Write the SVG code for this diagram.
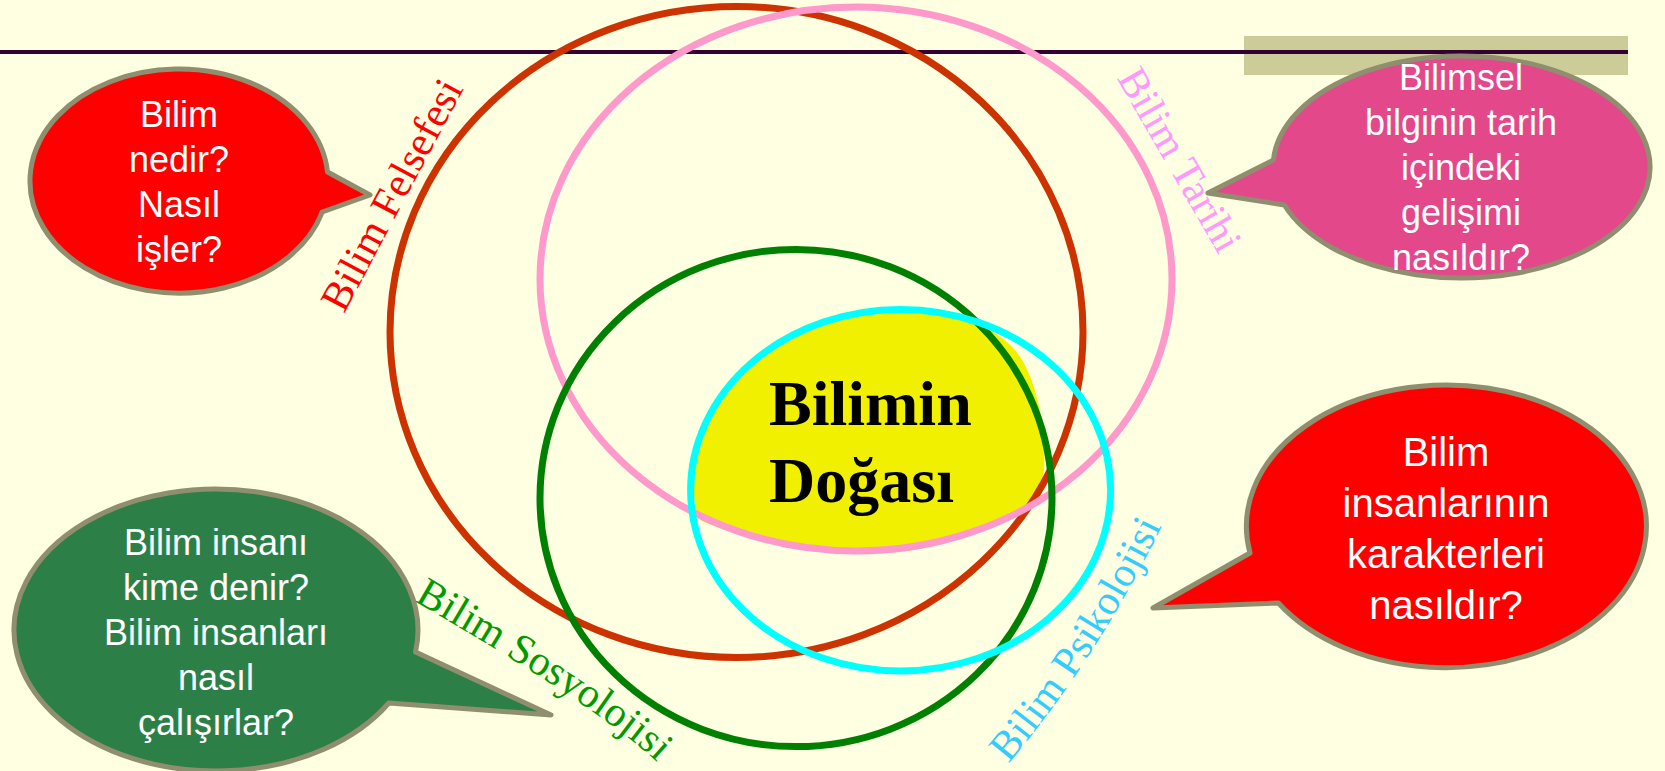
<svg xmlns="http://www.w3.org/2000/svg" width="1665" height="771" viewBox="0 0 1665 771">
<defs>
<style>
.bg{fill:#FFFFE1}
.ring{fill:none;stroke-width:7}
.bubble{stroke:#8F8E6E;stroke-width:5;stroke-linejoin:round}
.bt{font-family:"Liberation Sans",Arial,sans-serif;fill:#FFFFFF;text-anchor:middle;font-size:36px}
.lbl{font-family:"Liberation Serif","Times New Roman",serif;font-size:42px}
.core{font-family:"Liberation Serif","Times New Roman",serif;font-weight:bold;font-size:64px;fill:#000000}
</style>
<path id="pSos" d="M 413.6,600.7 Q 607.9,712.9 661,766"/>
<path id="pPsi" d="M 1008.6,763.6 Q 1098,657 1163.3,523.1"/>
</defs>
<rect class="bg" x="0" y="0" width="1665" height="771"/>
<g id="header">
<rect x="1244" y="36" width="384" height="39" fill="#CCCC99"/>
<line x1="0" y1="52" x2="1628" y2="52" stroke="#330033" stroke-width="4"/>
</g>
<g id="core">
<path d="M 694,490 A 206.5 177 0 0 1 900,313 C 950,313 990,322 1015,350 C 1038,378 1046,430 1044,470 C 1042,490 1030,505 1015,512 C 970,540 920,554 860,554 C 800,554 745,540 700,520 C 695,510 694,500 694,490 Z" fill="#F0F000"/>
</g>
<g id="rings">
<ellipse id="ring-felsefe" class="ring" cx="736.5" cy="332" rx="346.5" ry="325.5" stroke="#CC3300"/>
<ellipse id="ring-tarih" class="ring" cx="856" cy="279" rx="316" ry="272" stroke="#FF99CC"/>
<ellipse id="ring-sosyoloji" class="ring" cx="796" cy="498" rx="256" ry="248.6" stroke="#008000"/>
<ellipse id="ring-psikoloji" class="ring" cx="900.6" cy="490.2" rx="210" ry="180.8" stroke="#00FFFF"/>
</g>
<g id="core-label">
<text class="core" x="769" y="425">Bilimin</text>
<text class="core" x="769" y="502">Doğası</text>
</g>
<g id="labels">
<text class="lbl" fill="#FF0000" transform="translate(344,314) rotate(-62)">Bilim Felsefesi</text>
<text class="lbl" fill="#FF99FF" transform="translate(1116.5,78) rotate(60)">Bilim Tarihi</text>
<text class="lbl" fill="#009900"><textPath href="#pSos">Bilim Sosyolojisi</textPath></text>
<text class="lbl" fill="#33CCFF"><textPath href="#pPsi">Bilim Psikolojisi</textPath></text>
</g>
<g id="bubble-felsefe">
<path class="bubble" fill="#FF0000" d="M 327.5,172 L 370,195 L 322.2,212 A 149 112 0 1 1 327.5,172 Z"/>
<text class="bt" x="179" y="127">Bilim</text>
<text class="bt" x="179" y="172">nedir?</text>
<text class="bt" x="179" y="217">Nasıl</text>
<text class="bt" x="179" y="262">işler?</text>
</g>
<g id="bubble-tarih">
<path class="bubble" fill="#E3488B" d="M 1273.4,160 L 1208,193 L 1284.4,205 A 188.5 111 0 1 0 1273.4,160 Z"/>
<text class="bt" x="1461" y="90">Bilimsel</text>
<text class="bt" x="1461" y="135">bilginin tarih</text>
<text class="bt" x="1461" y="180">içindeki</text>
<text class="bt" x="1461" y="225">gelişimi</text>
<text class="bt" x="1461" y="270">nasıldır?</text>
</g>
<g id="bubble-sosyoloji">
<path class="bubble" fill="#2D7F48" d="M 415.5,652 L 551,715 L 388.8,703 A 202 141 0 1 1 415.5,652 Z"/>
<text class="bt" x="216" y="555">Bilim insanı</text>
<text class="bt" x="216" y="600">kime denir?</text>
<text class="bt" x="216" y="645">Bilim insanları</text>
<text class="bt" x="216" y="690">nasıl</text>
<text class="bt" x="216" y="735">çalışırlar?</text>
</g>
<g id="bubble-psikoloji">
<path class="bubble" fill="#FF0000" d="M 1250,553 L 1153,608 L 1278.4,603 A 200 141.3 0 1 0 1250,553 Z"/>
<text class="bt" x="1446" y="466" style="font-size:40px">Bilim</text>
<text class="bt" x="1446" y="517" style="font-size:40px">insanlarının</text>
<text class="bt" x="1446" y="568" style="font-size:40px">karakterleri</text>
<text class="bt" x="1446" y="619" style="font-size:40px">nasıldır?</text>
</g>
</svg>
